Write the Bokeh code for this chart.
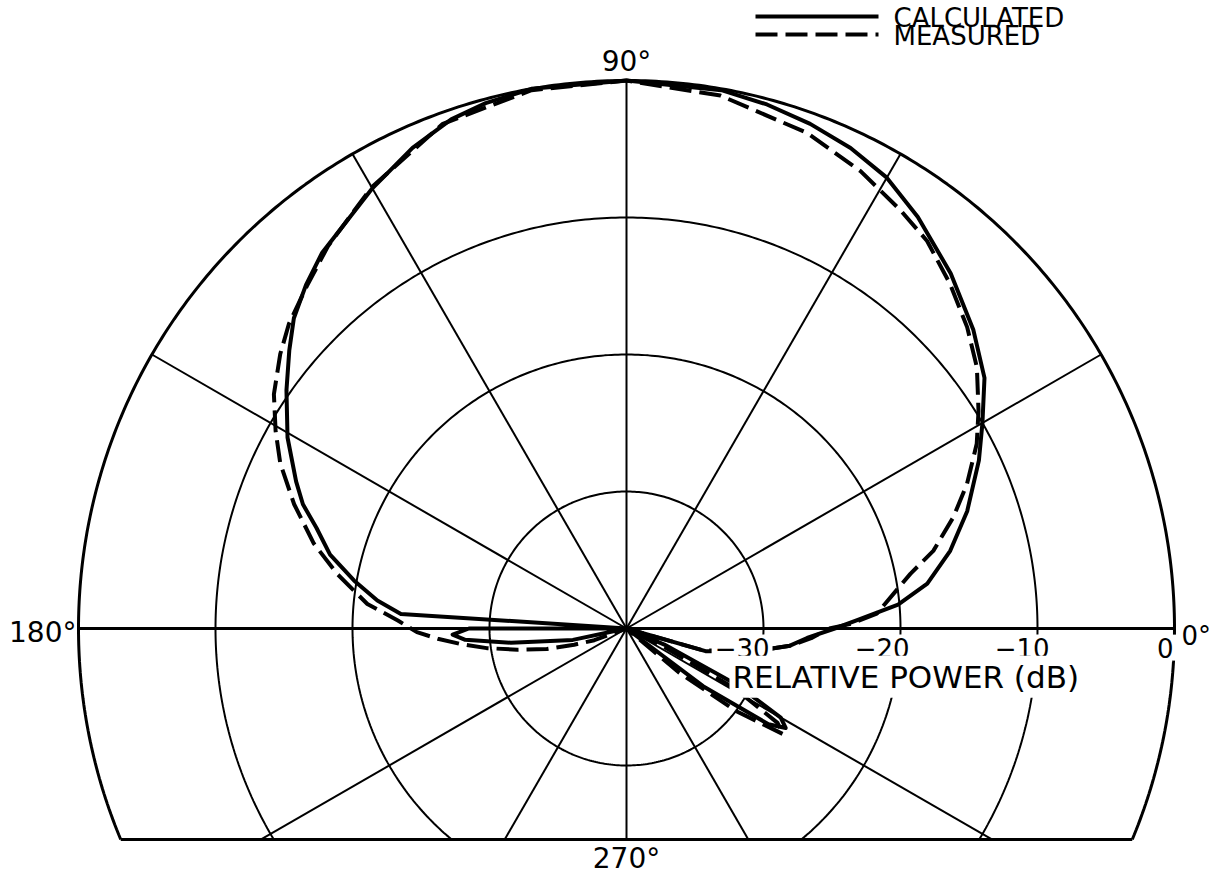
import numpy as np
from bokeh.plotting import figure
from bokeh.models import ColumnDataSource, Range1d
from bokeh.core.properties import value
from bokeh.embed import file_html
from bokeh.resources import INLINE

# ---------------- data ----------------
calc_angle_deg = [0, 2, 5, 8.5, 13.5, 19, 25.5, 30, 35, 40.7, 47.6, 54.7, 60, 65, 70, 75, 80, 90,
                  100, 105, 109, 114, 120, 129, 133, 137, 140.5, 145, 150.6, 156, 159, 162, 166,
                  170, 173.6, 176.3, 177, 180, 182, 184, 187, 192, 200, 320, 323, 326, 328, 330,
                  333, 337, 340, 344, 350, 354, 357, 360]
calc_db = [-24.8, -23.2, -20.1, -17.8, -15.7, -13.7, -11.5, -10.0, -8.1, -6.6, -4.9, -3.2, -2.0,
           -1.3, -0.8, -0.4, -0.1, 0.0, 0.0, -0.3, -0.7, -1.6, -2.9, -4.7, -5.7, -6.8, -8.1, -9.7,
           -11.6, -13.6, -14.7, -16.2, -17.7, -19.8, -21.7, -23.5, -40.0, -28.5, -27.3, -28.2,
           -31.5, -36.0, -40.0, -40.0, -33.0, -27.5, -26.3, -27.0, -31.0, -37.0, -40.0, -34.0,
           -30.5, -28.0, -26.8, -24.8]

meas_angle_deg = [0, 1.2, 3.4, 10.9, 14.2, 18.8, 23, 27.8, 31.7, 36.7, 41.5, 46.8, 52.2, 56.8,
                  62.9, 70, 80, 90, 100, 110, 120, 128, 133, 137.9, 141.6, 146.4, 150.6, 154.5,
                  159.5, 164.8, 169.3, 174.6, 178, 181, 183.1, 185.3, 188, 191, 194.4, 197.2, 200,
                  205, 316, 320, 323, 326, 328, 331, 334, 338, 344, 350, 354, 357, 360]
meas_db = [-25.2, -23.6, -21.7, -18.9, -16.9, -14.8, -13.0, -11.1, -9.8, -8.1, -6.8, -5.5, -4.2,
           -3.5, -2.5, -1.5, -0.5, 0.0, -0.1, -0.8, -2.8, -4.6, -5.8, -6.8, -7.75, -9.1, -10.6,
           -12.0, -14.1, -16.35, -18.5, -21.0, -23.3, -24.7, -26.2, -27.8, -29.7, -31.9, -34.0,
           -36.0, -37.5, -40.0, -40.0, -35.0, -30.0, -26.2, -27.0, -31.0, -37.0, -40.0, -34.2,
           -30.5, -28.0, -26.5, -25.2]

ring_db = [-30, -20, -10, 0]
ring_labels = ["\u221230", "\u221220", "\u221210", "0"]
spoke_angle_deg = [0, 30, 60, 90, 120, 150, 180, 210, 240, 270, 300, 330]
angle_labels = ["0\u00b0", "90\u00b0", "180\u00b0", "270\u00b0"]
axis_title = "RELATIVE POWER (dB)"
legend_labels = ["CALCULATED", "MEASURED"]
FLOOR_DB = -40.0

# ---------------- layout ----------------
W, H = 1213, 875
PX = 13.7            # pixels per dB
CX, CY = 626, 628    # picture pixel position of the pole
CLIP = -15.4         # lower cut of the chart (dB units below the pole)
FONT = value("DejaVu Sans")
BASE_FIX = 0.38      # svg baseline correction (in em)


def dx(px):
    return (px - CX) / PX


def dy(py):
    return (CY - py) / PX


def base(py, fs):
    # y (data) that puts the alphabetic baseline at picture row py
    return dy(py - BASE_FIX * fs)


p = figure(width=W, height=H, output_backend="svg", toolbar_location=None,
           x_range=Range1d(dx(0), dx(W)), y_range=Range1d(dy(H), dy(0)),
           min_border=0, background_fill_color="white", border_fill_color="white")
p.axis.visible = False
p.grid.visible = False
p.outline_line_color = None

R_MAX = 0 - FLOOR_DB

# rings
for db in ring_db:
    r = db - FLOOR_DB
    if r <= -CLIP:
        t = np.linspace(0, 2 * np.pi, 400)
    else:
        a = np.arcsin(-CLIP / r)
        t = np.linspace(-a, np.pi + a, 400)
    p.line(r * np.cos(t), r * np.sin(t), line_color="black",
           line_width=3 if db == 0 else 2)

# bottom edge
xe = np.sqrt(R_MAX ** 2 - CLIP ** 2)
p.line([-xe, xe], [CLIP, CLIP], line_color="black", line_width=3)

# spokes
for ang in spoke_angle_deg:
    t = np.radians(ang)
    s = np.sin(t)
    L = R_MAX if s >= -1e-9 else min(R_MAX, CLIP / s)
    p.line([0, L * np.cos(t)], [0, L * np.sin(t)], line_color="black",
           line_width=3 if ang in (0, 180) else 2)


def to_xy(angles, dbs):
    a = np.radians(np.asarray(angles, dtype=float))
    r = np.clip(np.asarray(dbs, dtype=float) - FLOOR_DB, 0, None)
    return r * np.cos(a), r * np.sin(a)


cx, cy = to_xy(calc_angle_deg, calc_db)
mx, my = to_xy(meas_angle_deg, meas_db)
p.line(cx, cy, line_color="black", line_width=4, line_join="round")
p.line(mx, my, line_color="black", line_width=4, line_dash="22 8", line_join="round")

# dB tick labels (with white box, masking the rings as in the original)
label_offsets_px = [9, 12, 15, 2]
src = ColumnDataSource(dict(x=[d - FLOOR_DB for d in ring_db], y=[base(657, 26)] * len(ring_db),
                            text=ring_labels, xo=label_offsets_px))
p.text(x="x", y="y", text="text", x_offset="xo", source=src, text_font=FONT,
       text_font_size="26px", text_align="right", text_baseline="alphabetic",
       text_color="black", background_fill_color="white", padding=3)

p.text(x=[dx(729)], y=[base(688, 31)], text=[axis_title], text_font=FONT, text_font_size="31px",
       text_align="left", text_baseline="alphabetic", text_color="black",
       background_fill_color="white", padding=3)

# angle labels
p.text(x=[dx(1181)], y=[base(645, 26)], text=[angle_labels[0]], text_font=FONT,
       text_font_size="26px", text_align="left", text_baseline="alphabetic")
p.text(x=[0], y=[base(72, 28)], text=[angle_labels[1]], text_font=FONT,
       text_font_size="28px", text_align="center", text_baseline="alphabetic")
p.text(x=[dx(76)], y=[base(643, 28)], text=[angle_labels[2]], text_font=FONT,
       text_font_size="28px", text_align="right", text_baseline="alphabetic")
p.text(x=[0], y=[base(869, 28)], text=[angle_labels[3]], text_font=FONT,
       text_font_size="28px", text_align="center", text_baseline="alphabetic")

# legend
p.line([dx(755), dx(878)], [dy(16), dy(16)], line_color="black", line_width=4)
p.line([dx(755), dx(878)], [dy(34), dy(34)], line_color="black", line_width=4,
       line_dash="22 8")
p.text(x=[dx(893), dx(893)], y=[base(27, 26), base(45, 26)], text=legend_labels, text_font=FONT,
       text_font_size="26px", text_align="left", text_baseline="alphabetic")

open("out.html", "w").write(file_html(p, INLINE))
